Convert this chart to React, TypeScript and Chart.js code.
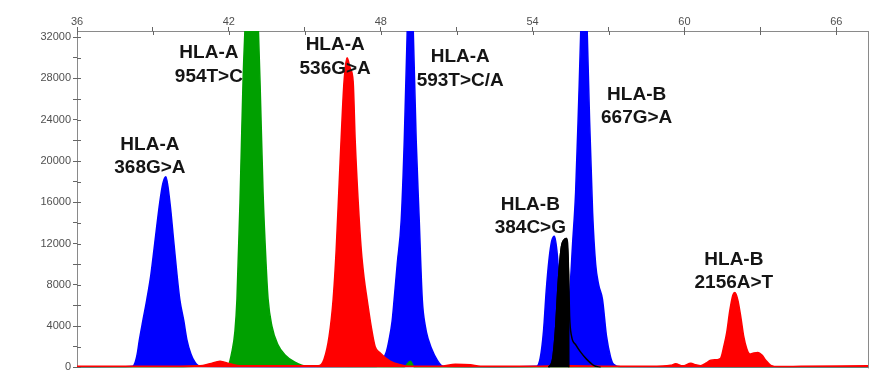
import { useEffect, useRef } from 'react';
import { Chart, registerables } from 'chart.js';

Chart.register(...registerables);

// Axis ticks (data units)
const xMinorTicks = [36, 39, 42, 45, 48, 51, 54, 57, 60, 63, 66];
const xLabelTicks = [36, 42, 48, 54, 60, 66];
const yMinorTicks = [0, 2000, 4000, 6000, 8000, 10000, 12000, 14000, 16000, 18000, 20000, 22000, 24000, 26000, 28000, 30000, 32000];
const yLabelTicks = [0, 4000, 8000, 12000, 16000, 20000, 24000, 28000, 32000];

// Blue dye channel
const blueX = [36, 37.5, 38.20, 38.30, 38.38, 38.46, 38.60, 38.76, 38.92, 39.07, 39.27, 39.39, 39.51, 39.67, 39.83, 39.95, 40.06, 40.22, 40.34, 40.50, 40.66, 40.86, 44.0,
  47.82, 48.02, 48.22, 48.33, 48.45, 48.53, 48.65, 48.81, 48.93, 49.05, 49.17, 49.28, 49.40, 49.52, 49.64, 49.76, 49.88, 50.12, 50.47, 52.5,
  54.15, 54.30, 54.43, 54.54, 54.65, 54.75, 54.86, 54.98, 55.10, 55.22, 55.34, 55.46, 55.58, 55.70, 55.81, 55.93, 56.01, 56.13, 56.25, 56.37, 56.49,
  56.61, 56.76, 56.92, 57.08, 57.20, 57.48, 60.0, 63.0, 67.25];
const blueY = [40, 60, 120, 500, 1300, 2600, 4500, 6600, 9000, 12000, 16000, 17800, 18470, 16000, 12000, 9000, 6600, 4500, 2700, 1300, 500, 100, 50,
  80, 500, 1500, 2700, 4500, 6600, 10000, 14300, 22000, 33000, 45000, 33000, 22000, 14300, 6600, 4000, 2700, 1200, 100, 50,
  100, 900, 3500, 7500, 10500, 12200, 12700, 10800, 6500, 4200, 4500, 7000, 12000, 17000, 25000, 35000, 45000, 35000, 24000, 15000, 10000,
  8000, 6600, 3000, 1000, 300, 60, 50, 40, 50];

// Green dye channel
const greenX = [36, 40.0, 41.0, 41.96, 42.12, 42.24, 42.32, 42.44, 42.56, 42.68, 42.79, 42.91, 43.03, 43.15, 43.23, 43.35, 43.47, 43.55, 43.70, 43.94,
  44.22, 44.61, 45.09, 48.93, 49.17, 49.32, 53.0, 58.0, 62.0, 67.25];
const greenY = [30, 40, 150, 200, 1500, 3500, 6600, 16000, 27700, 36000, 48000, 52000, 45000, 34000, 27700, 17000, 10000, 6600, 4000, 2200,
  1200, 500, 100, 50, 600, 50, 40, 60, 50, 40];

// Red dye channel
const redX = [36, 38.88, 40.86, 41.25, 41.65, 42.04, 42.44, 44.81, 45.53, 45.76, 45.96, 46.12, 46.24, 46.36, 46.47, 46.55, 46.67, 46.79, 46.91, 46.99,
  47.11, 47.23, 47.35, 47.46, 47.62, 47.78, 47.98, 48.37, 48.77, 49.17, 50.35, 50.95, 51.54, 51.94, 54.31, 54.90, 55.18, 55.50, 58.66, 59.46,
  59.65, 59.93, 60.25, 60.44, 60.64, 60.84, 61.04, 61.28, 61.43, 61.55, 61.67, 61.79, 61.91, 61.99, 62.11, 62.23, 62.34, 62.46, 62.58, 62.74,
  62.90, 63.06, 63.21, 63.41, 63.73, 64.60, 67.25];
const redY = [100, 100, 150, 350, 600, 350, 150, 150, 150, 800, 3000, 6600, 11400, 18000, 24000, 27700, 30000, 29000, 27700, 22000,
  16000, 11400, 8500, 6600, 4000, 2000, 1400, 600, 250, 100, 100, 300, 250, 100, 100, 200, 350, 150, 100, 200,
  350, 150, 400, 250, 150, 400, 700, 750, 900, 2000, 3400, 5500, 7000, 7250, 6500, 4800, 3000, 1800, 1300, 1400,
  1450, 1200, 700, 200, 80, 100, 150];

// Black dye channel (trace and the called-peak fill)
const blackX = [54.63, 54.79, 54.90, 55.02, 55.14, 55.26, 55.34, 55.42, 55.46, 55.54, 55.70, 55.89, 56.13, 56.41, 56.69];
const blackY = [0, 800, 3500, 8500, 11700, 12400, 12500, 9000, 5000, 3000, 2200, 1500, 800, 200, 0];
const blackFillX = [54.63, 54.79, 54.90, 55.02, 55.14, 55.26, 55.34, 55.42, 55.43];
const blackFillY = [0, 800, 3500, 8500, 11700, 12400, 12500, 9000, 0];

// Peak annotations
const labelGene = ['HLA-A', 'HLA-A', 'HLA-A', 'HLA-A', 'HLA-B', 'HLA-B', 'HLA-B'];
const labelVariant = ['368G>A', '954T>C', '536G>A', '593T>C/A', '384C>G', '667G>A', '2156A>T'];
const labelX = [38.88, 41.21, 46.20, 51.14, 53.91, 58.11, 61.95];
const labelY = [21080, 29980, 30750, 29590, 15280, 25920, 9960];

const pts = (xs: number[], ys: number[]) => xs.map((x, i) => ({ x, y: ys[i] }));

const FONT = '"Liberation Sans", Arial, sans-serif';

const labelPlugin = {
  id: 'peakLabels',
  afterDatasetsDraw(chart: any) {
    const { ctx, scales } = chart;
    const xs = scales.x;
    const ys = scales.y;
    ctx.save();
    ctx.font = `bold 19px ${FONT}`;
    ctx.fillStyle = '#151515';
    ctx.textAlign = 'center';
    ctx.textBaseline = 'alphabetic';
    labelX.forEach((lx, i) => {
      const px = xs.getPixelForValue(lx);
      const py = ys.getPixelForValue(labelY[i]);
      ctx.fillText(labelGene[i], px, py);
      ctx.fillText(labelVariant[i], px, py + 23.5);
    });
    ctx.restore();
  },
};

const framePlugin = {
  id: 'frame',
  afterDraw(chart: any) {
    const { ctx, chartArea } = chart;
    ctx.save();
    ctx.strokeStyle = '#8a8a8a';
    ctx.lineWidth = 1;
    ctx.beginPath();
    ctx.moveTo(chartArea.right + 0.5, chartArea.top);
    ctx.lineTo(chartArea.right + 0.5, chartArea.bottom + 1);
    ctx.stroke();
    // inward halves of the axis tick marks
    ctx.strokeStyle = '#666';
    const xs = chart.scales.x;
    const ys = chart.scales.y;
    xMinorTicks.forEach((v) => {
      const px = Math.round(xs.getPixelForValue(v)) + 0.5;
      ctx.beginPath();
      ctx.moveTo(px, chartArea.top);
      ctx.lineTo(px, chartArea.top + 4);
      ctx.stroke();
    });
    yMinorTicks.forEach((v) => {
      const py = Math.round(ys.getPixelForValue(v)) + 0.5;
      ctx.beginPath();
      ctx.moveTo(chartArea.left, py);
      ctx.lineTo(chartArea.left + 4, py);
      ctx.stroke();
    });
    ctx.restore();
  },
};

export default function App() {
  const canvasRef = useRef<HTMLCanvasElement | null>(null);

  useEffect(() => {
    const canvas = canvasRef.current;
    if (!canvas) return;
    const lineBase = {
      pointRadius: 0,
      borderWidth: 1.5,
      cubicInterpolationMode: 'monotone' as const,
    };
    const chart = new Chart(canvas, {
      type: 'line',
      data: {
        datasets: [
          { ...lineBase, label: 'blue', data: pts(blueX, blueY), borderColor: '#0000ff', backgroundColor: '#0000ff', fill: 'origin', order: 5 },
          { ...lineBase, label: 'green', data: pts(greenX, greenY), borderColor: '#00a000', backgroundColor: '#00a000', fill: 'origin', order: 4 },
          { ...lineBase, label: 'red', data: pts(redX, redY), borderColor: '#ff0000', backgroundColor: '#ff0000', fill: 'origin', order: 3 },
          { ...lineBase, label: 'blackFill', data: pts(blackFillX, blackFillY), borderColor: '#000', backgroundColor: '#000', fill: 'origin', order: 2 },
          { ...lineBase, label: 'black', data: pts(blackX, blackY), borderColor: '#000', backgroundColor: 'transparent', fill: false, order: 1 },
        ],
      },
      options: {
        animation: false,
        responsive: false,
        maintainAspectRatio: false,
        layout: { padding: { left: 0, right: 2, top: 0, bottom: 8 } },
        plugins: { legend: { display: false }, tooltip: { enabled: false } },
        scales: {
          x: {
            type: 'linear',
            position: 'top',
            min: 36,
            max: 67.25,
            afterBuildTicks: (s: any) => {
              s.ticks = xMinorTicks.map((v) => ({ value: v }));
            },
            afterFit: (s: any) => {
              s.height = 31;
            },
            ticks: {
              autoSkip: false,
              maxRotation: 0,
              padding: -2,
              color: '#505050',
              font: { family: FONT, size: 11 },
              callback: (v: any) => (xLabelTicks.includes(Number(v)) ? String(v) : ''),
            },
            grid: { drawOnChartArea: false, drawTicks: true, tickLength: 4, color: '#666' },
            border: { display: true, color: '#8a8a8a', width: 1 },
          },
          y: {
            type: 'linear',
            min: 0,
            max: 32600,
            afterBuildTicks: (s: any) => {
              s.ticks = yMinorTicks.map((v) => ({ value: v }));
            },
            afterFit: (s: any) => {
              s.width = 77;
            },
            ticks: {
              autoSkip: false,
              padding: 2,
              color: '#505050',
              font: { family: FONT, size: 11 },
              callback: (v: any) => (yLabelTicks.includes(Number(v)) ? String(v) : ''),
            },
            grid: { drawOnChartArea: false, drawTicks: true, tickLength: 4, color: '#666' },
            border: { display: true, color: '#8a8a8a', width: 1 },
          },
        },
      },
      plugins: [labelPlugin, framePlugin],
    });
    return () => chart.destroy();
  }, []);

  return (
    <div style={{ position: 'absolute', left: 0, top: 0, width: 870, height: 376, background: '#fff' }}>
      <canvas ref={canvasRef} width={870} height={376} style={{ display: 'block', width: 870, height: 376 }} />
    </div>
  );
}
